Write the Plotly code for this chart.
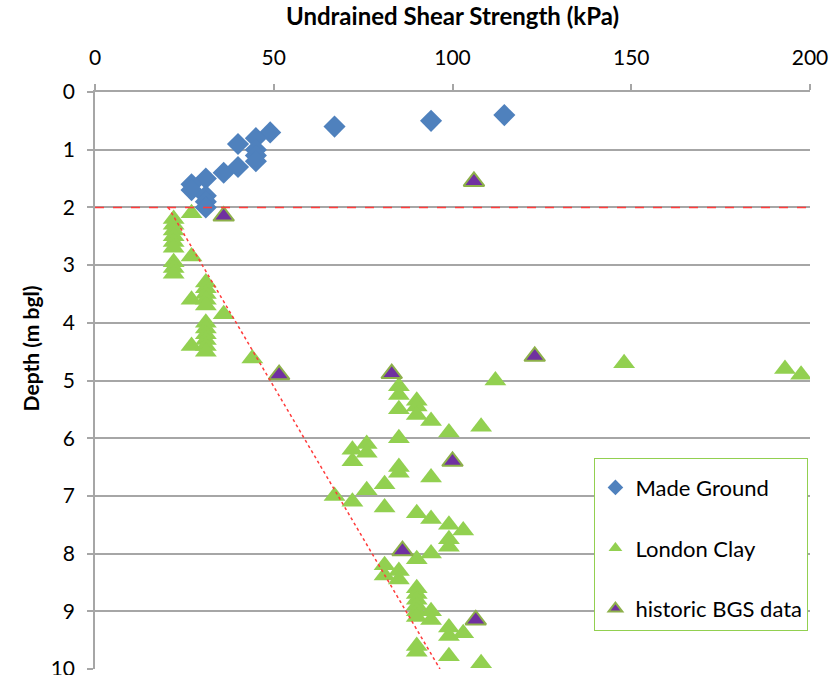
import plotly.graph_objects as go

# ---- data ----
mg_x = [114.5, 94, 67, 49, 45, 40, 45, 45, 45, 40, 36, 31, 27, 27, 31, 31, 31]
mg_y = [0.4, 0.5, 0.6, 0.7, 0.8, 0.9, 1.0, 1.1, 1.2, 1.3, 1.4, 1.5, 1.6, 1.7, 1.8, 1.9, 2.0]

lc_x = [22, 22, 22, 22, 22, 22, 22, 22, 22,
        27, 27, 27, 27,
        31, 31, 31, 31, 31, 31, 31, 31, 31, 31, 31,
        36, 44,
        112, 148, 193, 197.5,
        85, 85, 85, 90, 90, 90, 94, 99, 108, 85,
        76, 76, 72, 72, 85, 85, 94,
        76, 81, 67, 72, 81, 90, 94, 99, 103, 99, 99, 94, 90,
        85, 85, 81, 81,
        90, 90, 90, 90, 90, 90, 94, 94, 99, 99, 103, 90, 90, 99, 108]
lc_y = [2.2, 2.3, 2.4, 2.5, 2.6, 2.7, 2.95, 3.05, 3.15,
        2.1, 2.85, 3.6, 4.4,
        3.3, 3.4, 3.5, 3.6, 3.7, 4.0, 4.1, 4.2, 4.3, 4.4, 4.5,
        3.85, 4.62,
        5.0, 4.7, 4.8, 4.9,
        5.1, 5.25, 5.5, 5.35, 5.45, 5.6, 5.7, 5.9, 5.8, 6.0,
        6.1, 6.25, 6.2, 6.4, 6.5, 6.6, 6.68,
        6.9, 6.8, 7.0, 7.1, 7.2, 7.3, 7.4, 7.5, 7.6, 7.75, 7.88, 8.0, 8.1,
        8.3, 8.45, 8.2, 8.38,
        8.6, 8.7, 8.8, 8.9, 9.0, 9.1, 9.0, 9.15, 9.28, 9.43, 9.38, 9.6, 9.7, 9.78, 9.9]

bgs_x = [106, 36, 51.5, 83, 123, 100, 86, 106.5]
bgs_y = [1.55, 2.15, 4.9, 4.88, 4.58, 6.4, 7.95, 9.15]

# boundary lines
mg_base_x = [0, 200]
mg_base_y = [2, 2]
trend_x = [20.5, 96.5]
trend_y = [2, 10]

x_ticks = [0, 50, 100, 150, 200]
y_ticks = [0, 1, 2, 3, 4, 5, 6, 7, 8, 9, 10]

FONT = "Lato, 'Open Sans', sans-serif"
GREEN = "#92D050"
BLUE = "#4F81BD"
PURPLE = "#7030A0"
GRID = "#A6A6A6"

fig = go.Figure()
fig.add_trace(go.Scatter(x=mg_x, y=mg_y, mode="markers", name="Made Ground",
                         legendgroup="a",
                         marker=dict(symbol="diamond", size=17, color=BLUE,
                                     line=dict(width=0))))
fig.add_trace(go.Scatter(x=lc_x, y=lc_y, mode="markers", name="London Clay",
                         legendgroup="b",
                         marker=dict(symbol="triangle-up", size=19, color=GREEN,
                                     line=dict(width=0))))
fig.add_trace(go.Scatter(x=bgs_x, y=bgs_y, mode="markers", name="historic BGS data",
                         legendgroup="c",
                         marker=dict(symbol="triangle-up", size=18, color=PURPLE,
                                     line=dict(width=2, color="#8DB04A"))))
fig.add_trace(go.Scatter(x=mg_base_x, y=mg_base_y, mode="lines", showlegend=False,
                         hoverinfo="skip",
                         line=dict(color="#FF3B3B", width=1.5, dash="dash")))
fig.add_trace(go.Scatter(x=trend_x, y=trend_y, mode="lines", showlegend=False,
                         hoverinfo="skip",
                         line=dict(color="#FF3B3B", width=1.5, dash="dot")))

fig.update_layout(
    width=831, height=675,
    margin=dict(l=95, r=21, t=92, b=6, autoexpand=False),
    paper_bgcolor="white", plot_bgcolor="white",
    font=dict(family=FONT, size=21, color="#000000"),
    showlegend=True,
    legend=dict(x=0.6985, y=0.366, xanchor="left", yanchor="top",
                bordercolor=GREEN, borderwidth=1, bgcolor="white",
                font=dict(size=22, family=FONT),
                title=dict(text=" ", font=dict(size=6)),
                tracegroupgap=29, itemsizing="constant", itemwidth=30),
    xaxis=dict(range=[0, 200], side="top", tickvals=x_ticks,
               showgrid=False, zeroline=False, automargin=False,
               showline=True, linecolor=GRID, linewidth=1.5,
               ticks="outside", ticklen=6, tickcolor=GRID, tickwidth=1.5,
               ticklabelstandoff=11, ticklabeloverflow="allow",
               title=dict(text="<b>Undrained Shear Strength (kPa)</b>",
                          font=dict(size=24), standoff=11)),
    yaxis=dict(range=[10, 0], tickvals=y_ticks,
               showgrid=True, gridcolor=GRID, gridwidth=1.5, zeroline=False,
               automargin=False,
               showline=True, linecolor=GRID, linewidth=1.5,
               ticks="outside", ticklen=6, tickcolor=GRID, tickwidth=1.5,
               ticklabelstandoff=8, ticklabeloverflow="allow"),
    annotations=[dict(text="<b>Depth (m bgl)</b>", textangle=-90,
                      xref="paper", yref="paper", x=-0.09, y=0.555,
                      xanchor="center", yanchor="middle", showarrow=False,
                      font=dict(size=21, family=FONT))],
)

fig.write_html(
    "out.html",
    config={"displayModeBar": False},
    post_script="document.body.style.margin='0';"
                "document.body.style.overflow='hidden';",
)
